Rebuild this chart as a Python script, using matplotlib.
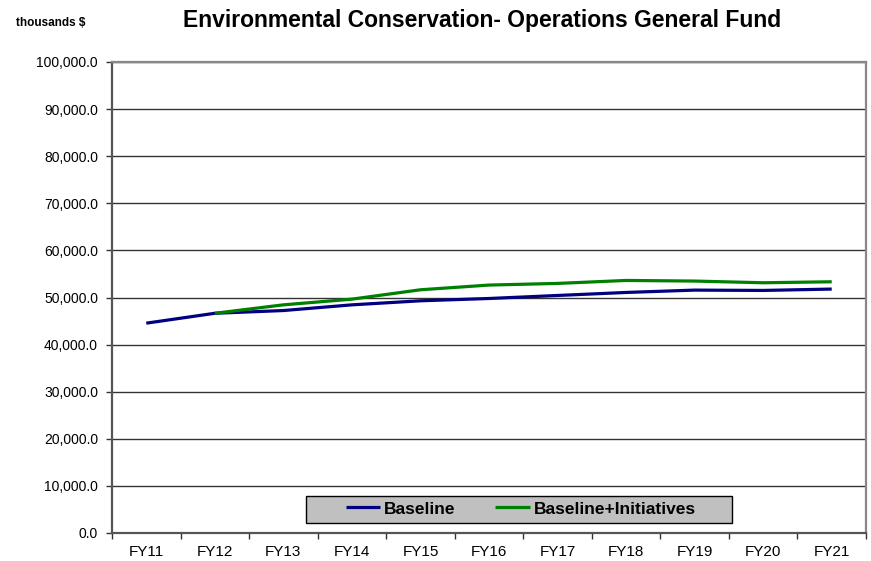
import matplotlib
matplotlib.use("Agg")
import matplotlib.pyplot as plt
from matplotlib.patches import Rectangle
from matplotlib.ticker import FuncFormatter

plt.rcParams['font.family'] = ['Liberation Sans', 'DejaVu Sans']

years = ["FY11", "FY12", "FY13", "FY14", "FY15", "FY16",
         "FY17", "FY18", "FY19", "FY20", "FY21"]
baseline = [44550, 46650, 47230, 48440, 49300, 49790,
            50430, 51070, 51570, 51500, 51790]
# initiatives series starts at FY12
init_years = years[1:]
initiatives = [46650, 48440, 49650, 51640, 52640,
               52990, 53620, 53490, 53130, 53340]

fig = plt.figure(figsize=(8.71, 5.61), dpi=100)
ax = fig.add_axes([112/871, 1 - 533/561, 754/871, 471/561])

x = list(range(len(years)))
xi = [years.index(y) for y in init_years]
ax.plot(x, baseline, color="#000080", lw=2.3, label="Baseline", solid_capstyle="butt")
ax.plot(xi, initiatives, color="#008000", lw=2.3, label="Baseline+Initiatives", solid_capstyle="butt")

ax.set_xlim(-0.5, len(years) - 0.5)
ax.set_ylim(0, 100000)
ax.set_yticks(range(0, 100001, 10000))
ax.yaxis.set_major_formatter(FuncFormatter(lambda v, p: f"{v:,.1f}"))
ax.set_xticks(x)
ax.set_xticklabels(years)
ax.set_xticks([i - 0.5 for i in range(len(years) + 1)], minor=True)
ax.tick_params(axis="x", which="major", length=0, pad=9, labelsize=11)
ax.tick_params(axis="x", which="minor", length=4, width=1, color="#333333")
ax.tick_params(axis="y", length=4, width=1, pad=6, labelsize=10, color="#333333")

ax.grid(axis="y", color="#333333", lw=1)
ax.set_axisbelow(True)
for s in ["left", "bottom"]:
    ax.spines[s].set_color("#555555")
    ax.spines[s].set_linewidth(1.6)
for s in ["top", "right"]:
    ax.spines[s].set_color("#888888")
    ax.spines[s].set_linewidth(1.6)

# legend box drawn separately so its size matches the original
ax.add_patch(Rectangle((0.257, 0.0206), 0.565, 0.059, transform=ax.transAxes,
                       facecolor="#C0C0C0", edgecolor="black", lw=1, zorder=5))
leg = ax.legend(loc="center", bbox_to_anchor=(0.542, 0.051), ncol=2,
                frameon=False, prop={"weight": "bold", "size": 12.5},
                handlelength=2.0, handletextpad=0.2, columnspacing=2.3,
                borderpad=0)
leg.set_zorder(6)

fig.text(482/871, 1 - 20/561, "Environmental Conservation- Operations General Fund",
         ha="center", va="center", fontsize=16.5, fontweight="bold")
fig.text(16/871, 1 - 23/561, "thousands $", ha="left", va="center",
         fontsize=8.5, fontweight="bold")

fig.savefig("out.png", dpi=100)
